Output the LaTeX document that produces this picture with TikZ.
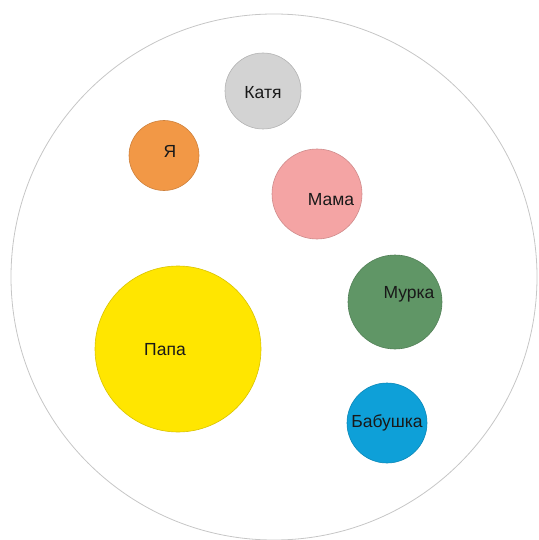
\documentclass[tikz,border=0pt]{standalone}
\usepackage{fontspec}
\setmainfont{Liberation Sans}
\usepackage{tikz}
\usetikzlibrary{positioning}
\definecolor{katya}{RGB}{211,211,211}
\definecolor{ya}{RGB}{242,152,70}
\definecolor{mama}{RGB}{244,164,164}
\definecolor{murka}{RGB}{96,150,102}
\definecolor{papa}{RGB}{255,230,0}
\definecolor{babushka}{RGB}{14,160,216}

\begin{document}
\begin{tikzpicture}[x=1pt, y=-1pt,
          family/.style={draw=gray!45, line width=0.8pt},
          member/.style={circle, inner sep=0pt, line width=0.6pt},
          who/.style={font=\fontsize{17.5}{20}\selectfont, text=black!90, inner sep=0pt}
        ]
          \useasboundingbox (0,0) rectangle (538,540);
          % whole family
          \node[family, circle, minimum size=526pt, inner sep=0pt] (home) at (274,277) {};
          % members
          \node[member, fill=katya, draw=katya!85!black, minimum size=76pt] (katya) at (263,91) {};
          \node[member, fill=ya, draw=ya!85!black, minimum size=70pt] (ya) at (164,155.5) {};
          \node[member, fill=mama, draw=mama!85!black, minimum size=90pt] (mama) at (317,194) {};
          \node[member, fill=murka, draw=murka!85!black, minimum size=94pt] (murka) at (395,302) {};
          \node[member, fill=papa, draw=papa!85!black, minimum size=166pt] (papa) at (178,349) {};
          \node[member, fill=babushka, draw=babushka!85!black, minimum size=80pt] (babushka) at (387,423) {};
          % names
          \node[who] (katyaname) at ([shift={(0,2)}]katya.center) {Катя};
          \node[who] (yaname) at ([shift={(6,-4)}]ya.center) {Я};
          \node[who] (mamaname) at ([shift={(14,6)}]mama.center) {Мама};
          \node[who] (murkaname) at ([shift={(14,-8)}]murka.center) {Мурка};
          \node[who] (papaname) at ([shift={(-13,1)}]papa.center) {Папа};
          \node[who] (babushkaname) at (babushka.center) {Бабушка};
        \end{tikzpicture}
\end{document}
